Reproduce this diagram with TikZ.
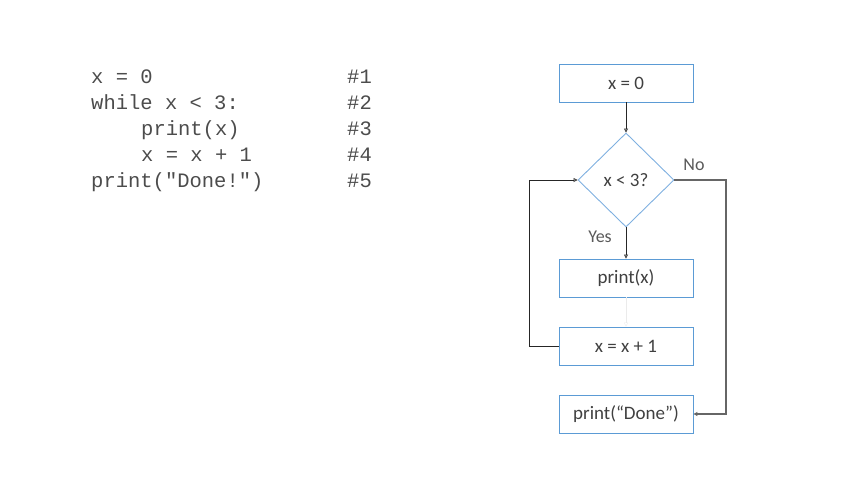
\documentclass[tikz,border=0pt]{standalone}
\usepackage{fontspec}
\setmainfont{Carlito}
\newfontfamily\codefont{Liberation Mono}
\usetikzlibrary{shapes.geometric,arrows.meta}
\definecolor{boxblue}{HTML}{5B9BD5}
\definecolor{diablue}{HTML}{7FB0E0}
\definecolor{txtgray}{HTML}{404040}
\definecolor{lblgray}{HTML}{595959}
\tikzset{
  procbox/.style={draw=boxblue, line width=0.9pt, minimum width=134pt, minimum height=38pt, inner sep=0pt, text=txtgray, font=\fontsize{19}{22}\selectfont},
  decbox/.style={draw=diablue, line width=0.9pt, diamond, minimum width=96pt, minimum height=94pt, inner sep=0pt, text=txtgray, font=\fontsize{19}{22}\selectfont},
  conn/.style={draw=black!85, line width=0.7pt, -{Triangle[open, length=4pt, width=4pt]}},
  codeline/.style={anchor=base west, inner sep=0pt, text=black!70, font=\codefont\fontsize{20.5}{24}\selectfont},
  lbl/.style={text=lblgray, font=\fontsize{18}{21}\selectfont, inner sep=0pt}
}
\begin{document}
\begin{tikzpicture}[x=1pt,y=-1pt]
\useasboundingbox (0,0) rectangle (853,480);
% code listing
\node[codeline] (c1) at (91,83) {x = 0};
\node[codeline] (c2) at (91,109) {while x < 3:};
\node[codeline] (c3) at (141,135) {print(x)};
\node[codeline] (c4) at (141,161) {x = x + 1};
\node[codeline] (c5) at (91,187) {print("Done!")};
\node[codeline] (h1) at (347,83) {\#1};
\node[codeline] (h2) at (347,109) {\#2};
\node[codeline] (h3) at (347,135) {\#3};
\node[codeline] (h4) at (347,161) {\#4};
\node[codeline] (h5) at (347,187) {\#5};
% flowchart
\node[procbox] (init) at (626,83) {x = 0};
\node[decbox] (cond) at (626,180) {x < 3?};
\node[procbox] (pr) at (626,278) {print(x)};
\node[procbox] (inc) at (626,346) {x = x + 1};
\node[procbox] (done) at (626,414) {print(“Done”)};
\coordinate (lc) at (529,346);
\coordinate (lt) at (529,180);
\coordinate (rc) at (726,180);
\coordinate (rb) at (726,414);
\draw[conn] (init) -- (cond);
\draw[conn] (cond) -- (pr);
\draw[conn, draw=black!8, line width=0.3pt] (pr) -- (inc);
\draw[conn] (inc.west) -- (lc) -- (lt) -- (cond.west);
\draw[conn, draw=black!60, line width=1.2pt] (cond.east) -- (rc) -- (rb) -- (done.east);
\node[lbl] (no) at (694,165) {No};
\node[lbl] (yes) at (600,237) {Yes};
\end{tikzpicture}
\end{document}
